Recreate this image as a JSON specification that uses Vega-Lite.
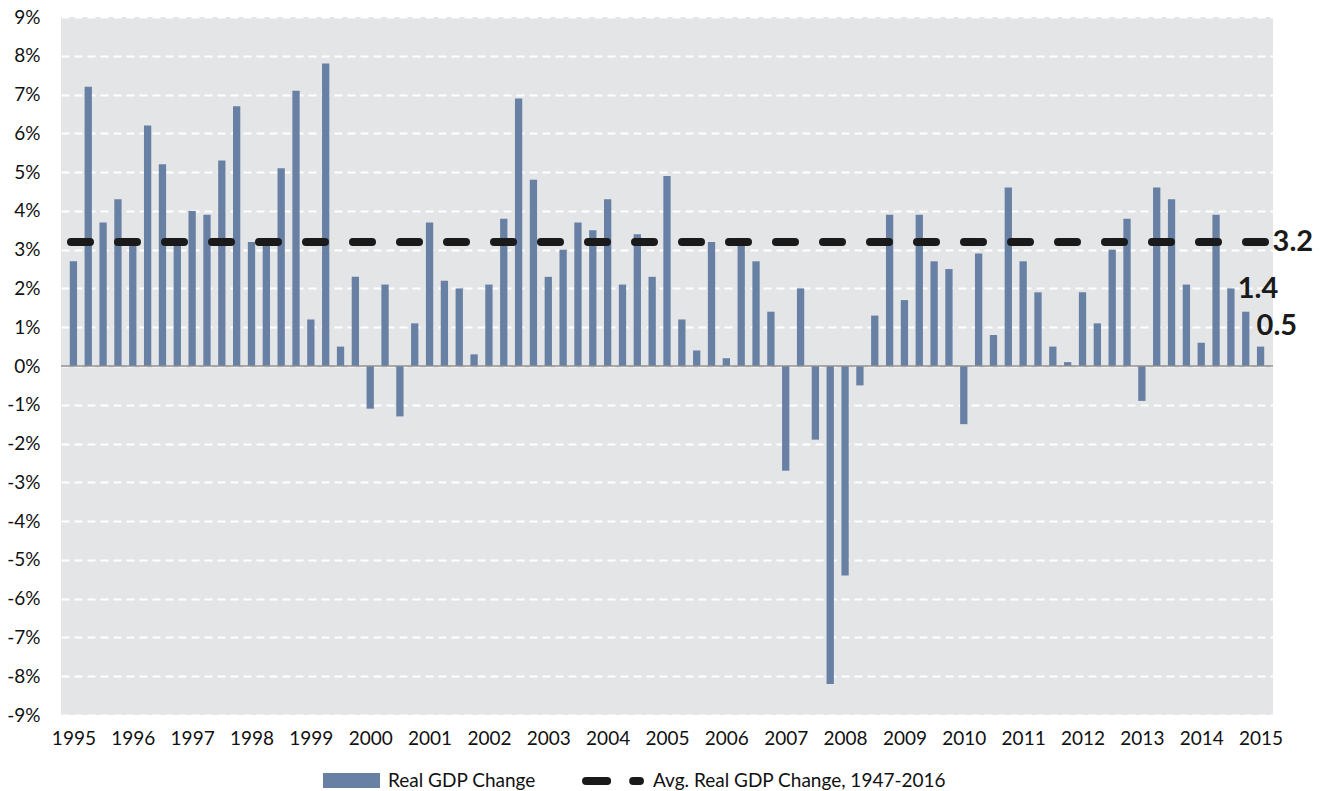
{
  "$schema": "https://vega.github.io/schema/vega-lite/v6.json",
  "autosize": "none",
  "width": 1212,
  "height": 698,
  "padding": {"left": 61, "top": 17, "right": 49, "bottom": 76},
  "background": "white",
  "config": {
    "view": {"fill": "#e4e5e7", "stroke": null},
    "font": "Lato",
    "axis": {"labelFont": "Lato", "labelFontSize": 19, "labelColor": "#111111", "title": null}
  },
  "datasets": {
    "gdp": [
      {"q": 0, "gdp": 2.7}, {"q": 1, "gdp": 7.2}, {"q": 2, "gdp": 3.7}, {"q": 3, "gdp": 4.3},
      {"q": 4, "gdp": 3.1}, {"q": 5, "gdp": 6.2}, {"q": 6, "gdp": 5.2}, {"q": 7, "gdp": 3.1},
      {"q": 8, "gdp": 4.0}, {"q": 9, "gdp": 3.9}, {"q": 10, "gdp": 5.3}, {"q": 11, "gdp": 6.7},
      {"q": 12, "gdp": 3.2}, {"q": 13, "gdp": 3.2}, {"q": 14, "gdp": 5.1}, {"q": 15, "gdp": 7.1},
      {"q": 16, "gdp": 1.2}, {"q": 17, "gdp": 7.8}, {"q": 18, "gdp": 0.5}, {"q": 19, "gdp": 2.3},
      {"q": 20, "gdp": -1.1}, {"q": 21, "gdp": 2.1}, {"q": 22, "gdp": -1.3}, {"q": 23, "gdp": 1.1},
      {"q": 24, "gdp": 3.7}, {"q": 25, "gdp": 2.2}, {"q": 26, "gdp": 2.0}, {"q": 27, "gdp": 0.3},
      {"q": 28, "gdp": 2.1}, {"q": 29, "gdp": 3.8}, {"q": 30, "gdp": 6.9}, {"q": 31, "gdp": 4.8},
      {"q": 32, "gdp": 2.3}, {"q": 33, "gdp": 3.0}, {"q": 34, "gdp": 3.7}, {"q": 35, "gdp": 3.5},
      {"q": 36, "gdp": 4.3}, {"q": 37, "gdp": 2.1}, {"q": 38, "gdp": 3.4}, {"q": 39, "gdp": 2.3},
      {"q": 40, "gdp": 4.9}, {"q": 41, "gdp": 1.2}, {"q": 42, "gdp": 0.4}, {"q": 43, "gdp": 3.2},
      {"q": 44, "gdp": 0.2}, {"q": 45, "gdp": 3.1}, {"q": 46, "gdp": 2.7}, {"q": 47, "gdp": 1.4},
      {"q": 48, "gdp": -2.7}, {"q": 49, "gdp": 2.0}, {"q": 50, "gdp": -1.9}, {"q": 51, "gdp": -8.2},
      {"q": 52, "gdp": -5.4}, {"q": 53, "gdp": -0.5}, {"q": 54, "gdp": 1.3}, {"q": 55, "gdp": 3.9},
      {"q": 56, "gdp": 1.7}, {"q": 57, "gdp": 3.9}, {"q": 58, "gdp": 2.7}, {"q": 59, "gdp": 2.5},
      {"q": 60, "gdp": -1.5}, {"q": 61, "gdp": 2.9}, {"q": 62, "gdp": 0.8}, {"q": 63, "gdp": 4.6},
      {"q": 64, "gdp": 2.7}, {"q": 65, "gdp": 1.9}, {"q": 66, "gdp": 0.5}, {"q": 67, "gdp": 0.1},
      {"q": 68, "gdp": 1.9}, {"q": 69, "gdp": 1.1}, {"q": 70, "gdp": 3.0}, {"q": 71, "gdp": 3.8},
      {"q": 72, "gdp": -0.9}, {"q": 73, "gdp": 4.6}, {"q": 74, "gdp": 4.3}, {"q": 75, "gdp": 2.1},
      {"q": 76, "gdp": 0.6}, {"q": 77, "gdp": 3.9}, {"q": 78, "gdp": 2.0}, {"q": 79, "gdp": 1.4},
      {"q": 80, "gdp": 0.5}
    ],
    "avg": [{"q": 80, "gdp": 3.2, "label": "3.2"}],
    "last": [{"q": 79, "gdp": 1.4, "label": "1.4"}, {"q": 80, "gdp": 0.5, "label": "0.5"}]
  },
  "layer": [
    {
      "data": {"name": "gdp"},
      "mark": {"type": "bar", "size": 7.3},
      "encoding": {
        "x": {
          "field": "q", "type": "quantitative",
          "scale": {"domain": [-0.5, 80.5], "nice": false, "zero": false},
          "axis": {
            "values": [0, 4, 8, 12, 16, 20, 24, 28, 32, 36, 40, 44, 48, 52, 56, 60, 64, 68, 72, 76, 80],
            "tickCount": 100,
            "labelExpr": "'' + (1995 + datum.value / 4)",
            "ticks": false, "domain": false, "grid": false, "labelPadding": 14,
            "labelFlush": false, "labelOverlap": false
          }
        },
        "y": {
          "field": "gdp", "type": "quantitative",
          "scale": {"domain": [-9, 9], "nice": false},
          "axis": {
            "values": [-9, -8, -7, -6, -5, -4, -3, -2, -1, 0, 1, 2, 3, 4, 5, 6, 7, 8, 9],
            "tickCount": 100,
            "labelExpr": "datum.value + '%'",
            "ticks": false, "domain": false, "labelPadding": 21,
            "labelOverlap": false, "labelFlush": false,
            "grid": true, "gridColor": "#ffffff", "gridWidth": 2, "gridDash": [8, 5], "gridOpacity": 1
          }
        },
        "color": {
          "datum": "Real GDP Change",
          "scale": {"range": ["#6880a4"]},
          "legend": {
            "orient": "none", "legendX": 262, "legendY": 735, "padding": 0, "title": null,
            "symbolType": "M-1,-0.26H1V0.26H-1Z", "symbolSize": 3249, "symbolStrokeWidth": 0,
            "labelFont": "Lato", "labelFontSize": 19, "labelColor": "#111111", "labelOffset": 8, "labelLimit": 400
          }
        }
      }
    },
    {
      "data": {"values": [{"zero": 0}]},
      "mark": {"type": "rule", "color": "#8f8f8f", "strokeWidth": 1.5},
      "encoding": {"y": {"field": "zero", "type": "quantitative"}}
    },
    {
      "data": {"name": "avg"},
      "mark": {"type": "rule", "strokeWidth": 8, "strokeCap": "round", "strokeDash": [19, 28], "strokeDashOffset": 39},
      "encoding": {
        "y": {"field": "gdp", "type": "quantitative"},
        "stroke": {
          "datum": "Avg. Real  GDP Change, 1947-2016",
          "scale": {"range": ["#1a1a1a"]},
          "legend": {
            "orient": "none", "legendX": 517, "legendY": 729, "padding": 0, "title": null,
            "symbolType": "M-0.87,0H-0.19M0.65,0H0.87", "symbolSize": 3844, "symbolStrokeWidth": 8,
            "symbolFillColor": "transparent",
            "labelFont": "Lato", "labelFontSize": 19, "labelColor": "#111111", "labelOffset": 5, "labelLimit": 500,
            "encode": {"symbols": {"update": {"strokeCap": {"value": "round"}}}}
          }
        }
      }
    },
    {
      "data": {"name": "avg"},
      "mark": {"type": "text", "align": "left", "baseline": "middle", "dx": 12, "dy": 0, "font": "Lato", "fontWeight": "bold", "fontSize": 29, "color": "#1a1a1a"},
      "encoding": {
        "x": {"field": "q", "type": "quantitative"},
        "y": {"field": "gdp", "type": "quantitative"},
        "text": {"field": "label"}
      }
    },
    {
      "data": {"name": "last"},
      "transform": [{"filter": "datum.label == '1.4'"}],
      "mark": {"type": "text", "align": "left", "baseline": "middle", "dx": -8, "dy": -23, "font": "Lato", "fontWeight": "bold", "fontSize": 29, "color": "#1a1a1a"},
      "encoding": {
        "x": {"field": "q", "type": "quantitative"},
        "y": {"field": "gdp", "type": "quantitative"},
        "text": {"field": "label"}
      }
    },
    {
      "data": {"name": "last"},
      "transform": [{"filter": "datum.label == '0.5'"}],
      "mark": {"type": "text", "align": "left", "baseline": "middle", "dx": -4, "dy": -21, "font": "Lato", "fontWeight": "bold", "fontSize": 29, "color": "#1a1a1a"},
      "encoding": {
        "x": {"field": "q", "type": "quantitative"},
        "y": {"field": "gdp", "type": "quantitative"},
        "text": {"field": "label"}
      }
    }
  ]
}
